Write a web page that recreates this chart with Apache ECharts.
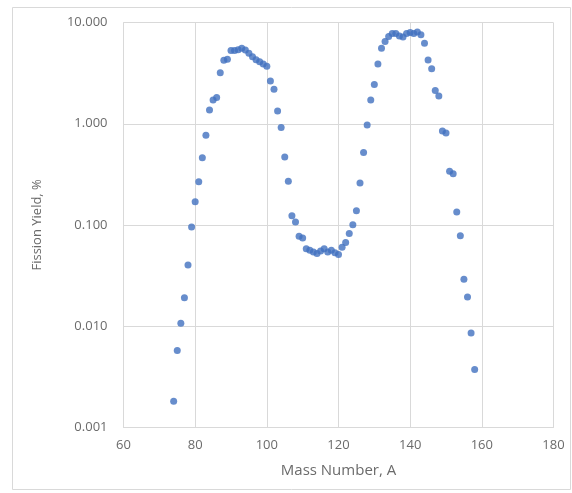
<!DOCTYPE html>
<html>
<head>
<meta charset="utf-8">
<script src="https://cdn.jsdelivr.net/npm/echarts@6/dist/echarts.min.js"></script>
<style>
  html, body { margin: 0; padding: 0; background: #ffffff; }
  #chart { width: 572px; height: 493px; }
</style>
</head>
<body>
<div id="chart"></div>
<script>
// Mass numbers
const massNumbers = [
  74, 75, 76, 77, 78, 79, 80, 81, 82, 83,
  84, 85, 86, 87, 88, 89, 90, 91, 92, 93,
  94, 95, 96, 97, 98, 99, 100, 101, 102, 103,
  104, 105, 106, 107, 108, 109, 110, 111, 112, 113,
  114, 115, 116, 117, 118, 119, 120, 121, 122, 123,
  124, 125, 126, 127, 128, 129, 130, 131, 132, 133,
  134, 135, 136, 137, 138, 139, 140, 141, 142, 143,
  144, 145, 146, 147, 148, 149, 150, 151, 152, 153,
  154, 155, 156, 157, 158
];
// Fission yield, %
const fissionYield = [
  0.0018, 0.0057, 0.0106, 0.019, 0.040, 0.095, 0.169, 0.267, 0.46, 0.77,
  1.37, 1.72, 1.82, 3.2, 4.25, 4.35, 5.3, 5.3, 5.4, 5.6,
  5.36, 5.0, 4.6, 4.3, 4.1, 3.9, 3.7, 2.65, 2.19, 1.34,
  0.92, 0.47, 0.27, 0.123, 0.107, 0.077, 0.074, 0.058, 0.056, 0.054,
  0.052, 0.055, 0.058, 0.054, 0.056, 0.053, 0.051, 0.060, 0.067, 0.082,
  0.100, 0.138, 0.26, 0.52, 0.97, 1.72, 2.45, 3.9, 5.6, 6.5,
  7.3, 7.8, 7.8, 7.4, 7.2, 7.8, 8.0, 7.8, 8.1, 7.6,
  6.25, 4.27, 3.5, 2.13, 1.88, 0.85, 0.81, 0.34, 0.32, 0.134,
  0.078, 0.029, 0.0193, 0.0085, 0.0037
];
const xTicks = [60, 80, 100, 120, 140, 160, 180];
const yTicks = [0.001, 0.01, 0.1, 1, 10];
const xTitle = 'Mass Number, A';
const yTitle = 'Fission Yield, %';

const points = massNumbers.map((a, i) => [a, fissionYield[i]]);

const chart = echarts.init(document.getElementById('chart'), null, { renderer: 'canvas' });
const labelFont = '"Open Sans", "Liberation Sans", sans-serif';
const textColor = '#6b6b6b';
chart.setOption({
  animation: false,
  backgroundColor: '#ffffff',
  grid: { left: 123.5, right: 18.5, top: 22.7, bottom: 66, containLabel: false },
  graphic: [{
    type: 'rect',
    shape: { x: 12.5, y: 7.5, width: 558, height: 482 },
    style: { fill: 'none', stroke: '#d9d9d9', lineWidth: 1 },
    silent: true
  }],
  xAxis: {
    type: 'value',
    min: xTicks[0],
    max: xTicks[xTicks.length - 1],
    interval: 20,
    name: xTitle,
    nameLocation: 'middle',
    nameGap: 36,
    nameTextStyle: { color: textColor, fontSize: 15, fontFamily: labelFont },
    axisLine: { show: true, lineStyle: { color: '#d9d9d9' } },
    axisTick: { show: false },
    axisLabel: { color: textColor, fontSize: 13, fontFamily: labelFont, margin: 12 },
    splitLine: { show: true, lineStyle: { color: '#d9d9d9', width: 1 } }
  },
  yAxis: {
    type: 'log',
    logBase: 10,
    min: yTicks[0],
    max: yTicks[yTicks.length - 1],
    name: yTitle,
    nameLocation: 'middle',
    nameGap: 80,
    nameTextStyle: { color: textColor, fontSize: 13, fontFamily: labelFont },
    axisLine: { show: true, lineStyle: { color: '#d9d9d9' } },
    axisTick: { show: false },
    axisLabel: {
      color: textColor, fontSize: 13, fontFamily: labelFont, margin: 16,
      formatter: v => Number(v).toFixed(3)
    },
    splitLine: { show: true, lineStyle: { color: '#d9d9d9', width: 1 } }
  },
  series: [{
    type: 'scatter',
    data: points,
    symbol: 'circle',
    symbolSize: 7,
    itemStyle: { color: '#4170bf' }
  }]
});
</script>
</body>
</html>
